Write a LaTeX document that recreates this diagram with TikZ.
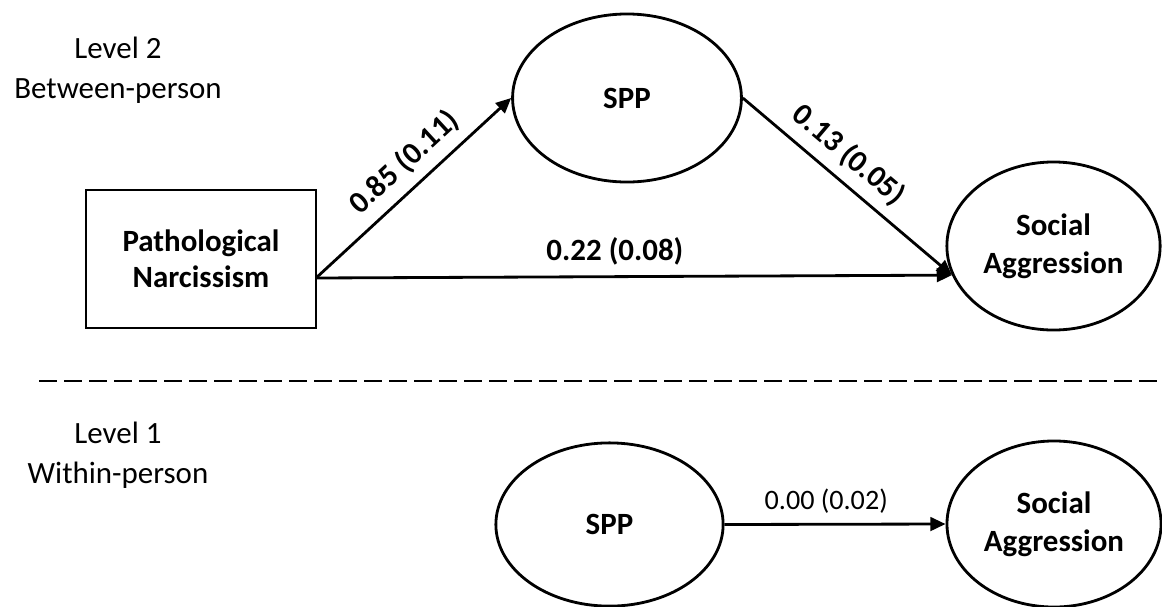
\documentclass[tikz,border=0pt]{standalone}
\usepackage{fontspec}
\setmainfont{Carlito}
\usetikzlibrary{arrows.meta,shapes.geometric}

\begin{document}
\begin{tikzpicture}[x=0.025cm, y=-0.025cm, >={Triangle[length=3.8mm,width=3.4mm]},
  every node/.style={font=\fontsize{22}{27}\selectfont},
  latent/.style={draw, ellipse, line width=2pt, inner sep=0pt, align=center, font=\fontsize{22}{27}\selectfont\bfseries},
  coef/.style={inner sep=7pt, font=\fontsize{22}{27}\selectfont\bfseries},
  lvl/.style={align=center, font=\fontsize{22}{28.5}\selectfont}]
\useasboundingbox (0,0) rectangle (1162,606);
\node[lvl] (lvl2) at (118,70) {Level 2\\Between-person};
\node[draw, rectangle, line width=2pt, minimum width=5.75cm, minimum height=3.45cm, align=center, font=\fontsize{22}{25.6}\selectfont\bfseries] (pn) at (201,259) {Pathological\\Narcissism};
\node[latent, minimum width=5.72cm, minimum height=4.2cm] (spp) at (627,98) {SPP};
\node[latent, minimum width=5.33cm, minimum height=4.2cm] (sa) at (1053.5,246) {Social\\Aggression};
\coordinate (pnout) at (316,278);
\draw[->, line width=2pt] (pnout) -- node[coef, sloped, above, pos=.54] {0.85 (0.11)} (spp.west);
\draw[->, line width=2pt] (spp.east) -- node[coef, sloped, above, pos=.43] {0.13 (0.05)} (sa.196);
\draw[->, line width=2pt] (pnout) -- node[coef, above, pos=.47] {0.22 (0.08)} (sa.196);
\coordinate (dl) at (39,381);
\coordinate (dr) at (1162,381);
\draw[line width=1.8pt, dash pattern=on 0.45cm off 0.175cm] (dl) -- (dr);
\node[lvl] (lvl1) at (118,455) {Level 1\\Within-person};
\node[latent, minimum width=5.68cm, minimum height=4.08cm] (spp2) at (609.5,524.5) {SPP};
\node[latent, minimum width=5.35cm, minimum height=4.15cm] (sa2) at (1054,524) {Social\\Aggression};
\draw[->, line width=2pt] (spp2.east) -- node[coef, above, pos=.46, font=\fontsize{20}{24}\selectfont] {0.00 (0.02)} (sa2.west);
\end{tikzpicture}
\end{document}
